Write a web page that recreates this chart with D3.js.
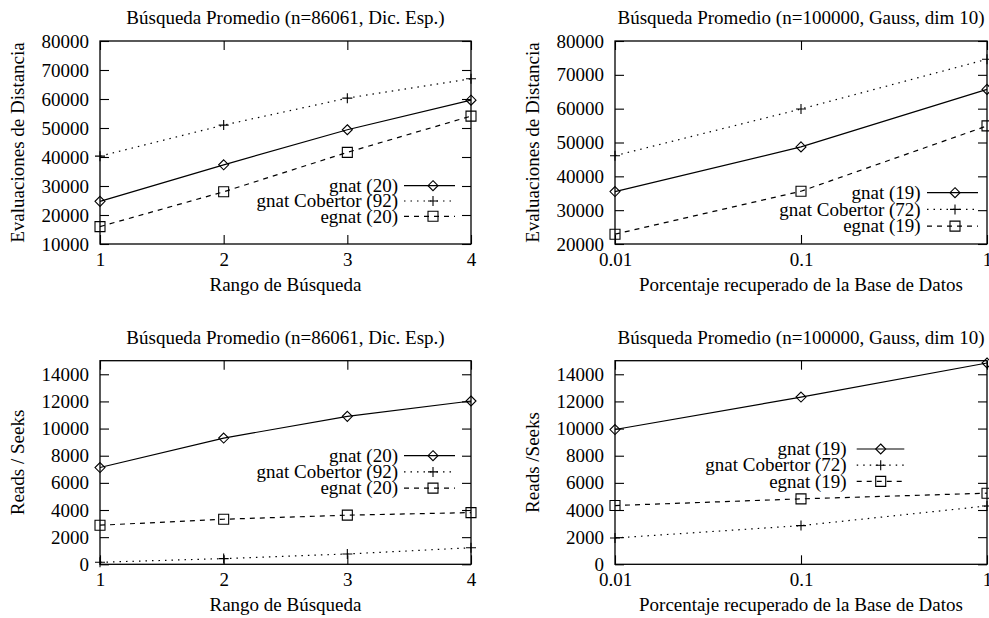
<!DOCTYPE html>
<html>

<head>
  <meta charset="utf-8">
  <title>Búsqueda Promedio</title>
  <script src="https://cdn.jsdelivr.net/npm/d3@7"></script>
  <style>
    html,
    body {
      margin: 0;
      padding: 0;
      overflow: hidden;
      background: white;
    }
  </style>
</head>

<body>
  <div id="chart"></div>
  <script>
    // data
    const rangos = [1, 2, 3, 4]
    const porcentajes = [0.01, 0.1, 1]

    const evalDicGnat = [24700, 37300, 49400, 59600]
    const evalDicCobertor = [40300, 51000, 60300, 67000]
    const evalDicEgnat = [16000, 28000, 41600, 54100]

    const evalGaussGnat = [35500, 48700, 65700]
    const evalGaussCobertor = [46100, 59900, 74600]
    const evalGaussEgnat = [22900, 35600, 54900]

    const readsDicGnat = [7130, 9300, 10900, 12030]
    const readsDicCobertor = [150, 420, 760, 1220]
    const readsDicEgnat = [2880, 3320, 3620, 3810]

    const readsGaussGnat = [9930, 12320, 14830]
    const readsGaussCobertor = [1940, 2850, 4300]
    const readsGaussEgnat = [4330, 4820, 5240]

    const evalTicksDic = [10000, 20000, 30000, 40000, 50000, 60000, 70000, 80000]
    const evalTicksGauss = [20000, 30000, 40000, 50000, 60000, 70000, 80000]
    const readsTicks = [0, 2000, 4000, 6000, 8000, 10000, 12000, 14000]

    const tituloDic = 'Búsqueda Promedio (n=86061, Dic. Esp.)'
    const tituloGauss = 'Búsqueda Promedio (n=100000, Gauss, dim 10)'
    const xLabelRango = 'Rango de Búsqueda'
    const xLabelPorc = 'Porcentaje recuperado de la Base de Datos'

    const FONT = '"Liberation Serif", "Times New Roman", Times, "DejaVu Serif", serif'

    const styles = [
      { dash: null, marker: 'diamond' },
      { dash: '1.5,5', marker: 'plus' },
      { dash: '5,5', marker: 'square' }
    ]

    const panels = [
      {
        box: [100, 41, 471, 244], title: tituloDic, xlabel: xLabelRango, ylabel: 'Evaluaciones de Distancia',
        xs: rangos, log: false, ydomain: [10000, 80000], yticks: evalTicksDic,
        series: [['gnat (20)', evalDicGnat], ['gnat Cobertor (92)', evalDicCobertor], ['egnat (20)', evalDicEgnat]],
        legend: { x: 398, y: 185.7, dy: 15.3, x1: 404, x2: 455, xm: 433 }
      },
      {
        box: [615, 41, 987, 244], title: tituloGauss, xlabel: xLabelPorc, ylabel: 'Evaluaciones de Distancia',
        xs: porcentajes, log: true, ydomain: [20000, 80000], yticks: evalTicksGauss,
        series: [['gnat (19)', evalGaussGnat], ['gnat Cobertor (72)', evalGaussCobertor], ['egnat (19)', evalGaussEgnat]],
        legend: { x: 920.7, y: 192.7, dy: 16.7, x1: 927, x2: 978, xm: 955 }
      },
      {
        box: [100, 360.7, 471, 564.3], title: tituloDic, xlabel: xLabelRango, ylabel: 'Reads / Seeks',
        xs: rangos, log: false, ydomain: [0, 15000], yticks: readsTicks,
        series: [['gnat (20)', readsDicGnat], ['gnat Cobertor (92)', readsDicCobertor], ['egnat (20)', readsDicEgnat]],
        legend: { x: 398, y: 455.7, dy: 16.2, x1: 404, x2: 455, xm: 433 }
      },
      {
        box: [615, 360.7, 987, 564.3], title: tituloGauss, xlabel: xLabelPorc, ylabel: 'Reads /Seeks',
        xs: porcentajes, log: true, ydomain: [0, 15000], yticks: readsTicks,
        series: [['gnat (19)', readsGaussGnat], ['gnat Cobertor (72)', readsGaussCobertor], ['egnat (19)', readsGaussEgnat]],
        legend: { x: 846.7, y: 449, dy: 16.2, x1: 856.7, x2: 904.3, xm: 880.7 }
      }
    ]

    const svg = d3.select('#chart')
      .append('svg')
      .attr('width', 989)
      .attr('height', 618)
      .style('display', 'block')

    function txt(g) {
      return g.append('text').attr('font-family', FONT).attr('font-size', 19).attr('fill', 'black')
    }

    function drawMarker(g, type, x, y) {
      const s = 5
      let d
      if (type === 'diamond') d = `M${x},${y - s}L${x + s},${y}L${x},${y + s}L${x - s},${y}Z`
      else if (type === 'square') d = `M${x - s},${y - s}H${x + s}V${y + s}H${x - s}Z`
      else d = `M${x - s},${y}H${x + s}M${x},${y - s}V${y + s}`
      g.append('path').attr('d', d)
        .attr('fill', 'none').attr('stroke', 'black').attr('stroke-width', 1.1)
    }

    panels.forEach(p => {
      const [x0, y0, x1, y1] = p.box
      const x = (p.log ? d3.scaleLog() : d3.scaleLinear()).domain(d3.extent(p.xs)).range([x0, x1])
      const y = d3.scaleLinear().domain(p.ydomain).range([y1, y0])
      const g = svg.append('g')

      // inward ticks on all four sides, gnuplot style
      const tick = 9
      g.append('g').attr('transform', `translate(${x0},0)`)
        .call(d3.axisLeft(y).tickValues(p.yticks).tickSize(-tick).tickSizeOuter(0).tickPadding(11).tickFormat(d3.format('d')))
      g.append('g').attr('transform', `translate(${x1},0)`)
        .call(d3.axisRight(y).tickValues(p.yticks).tickSize(-tick).tickSizeOuter(0).tickFormat(''))
      g.append('g').attr('class', 'xaxis').attr('transform', `translate(0,${y1})`)
        .call(d3.axisBottom(x).tickValues(p.xs).tickSize(-tick).tickSizeOuter(0).tickPadding(5).tickFormat(d => String(d)))
      g.append('g').attr('transform', `translate(0,${y0})`)
        .call(d3.axisTop(x).tickValues(p.xs).tickSize(-tick).tickSizeOuter(0).tickFormat(''))
      g.selectAll('.domain').remove()
      g.selectAll('.tick line').attr('stroke', 'black').attr('stroke-width', 1.1)
      g.selectAll('g').attr('font-family', FONT).attr('font-size', 19)
      g.selectAll('.tick text').attr('fill', 'black')
      g.selectAll('.xaxis .tick text').attr('dy', '0.9em')

      g.append('rect').attr('x', x0).attr('y', y0).attr('width', x1 - x0).attr('height', y1 - y0)
        .attr('fill', 'none').attr('stroke', 'black').attr('stroke-width', 1.3)

      // titles
      txt(g).attr('x', (x0 + x1) / 2).attr('y', y0 - 17).attr('text-anchor', 'middle').text(p.title)
      txt(g).attr('x', (x0 + x1) / 2).attr('y', y1 + 46.5).attr('text-anchor', 'middle').text(p.xlabel)
      txt(g).attr('transform', `translate(${x0 - 76},${(y0 + y1) / 2}) rotate(-90)`)
        .attr('text-anchor', 'middle').text(p.ylabel)

      // series and legend
      p.series.forEach(([name, vals], i) => {
        const st = styles[i]
        const line = d3.line().x((d, j) => x(p.xs[j])).y(d => y(d))
        g.append('path').datum(vals).attr('d', line)
          .attr('fill', 'none').attr('stroke', 'black').attr('stroke-width', 1.2)
          .attr('stroke-dasharray', st.dash)
        vals.forEach((v, j) => drawMarker(g, st.marker, x(p.xs[j]), y(v)))

        const ly = p.legend.y + i * p.legend.dy
        txt(g).attr('x', p.legend.x).attr('y', ly).attr('dy', '0.33em')
          .attr('text-anchor', 'end').text(name)
        g.append('line').attr('x1', p.legend.x1).attr('x2', p.legend.x2).attr('y1', ly).attr('y2', ly)
          .attr('stroke', 'black').attr('stroke-width', 1.2).attr('stroke-dasharray', st.dash)
        drawMarker(g, st.marker, p.legend.xm, ly)
      })
    })
  </script>
</body>

</html>
